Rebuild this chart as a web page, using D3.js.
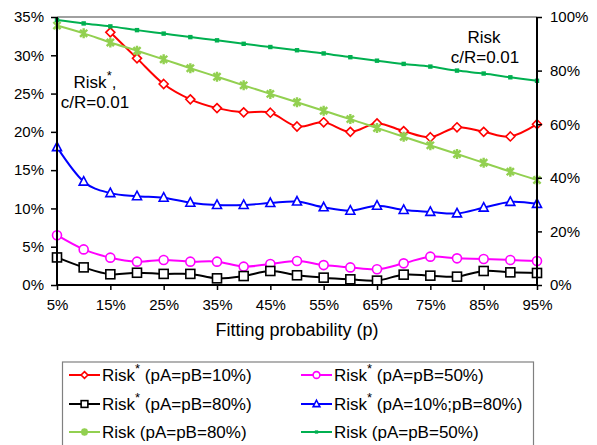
<!DOCTYPE html>
<html><head><meta charset="utf-8">
<script src="https://cdn.jsdelivr.net/npm/d3@7"></script>
<style>body{margin:0;background:#fff}svg{display:block;font-family:"Liberation Sans",Arial,sans-serif}</style>
</head><body><svg id="c" width="597" height="445"></svg>
<script>
const pValues = [5,10,15,20,25,30,35,40,45,50,55,60,65,70,75,80,85,90,95];
const xTickLabels = [5,15,25,35,45,55,65,75,85,95];
const leftTicks = [0,5,10,15,20,25,30,35];
const rightTicks = [0,20,40,60,80,100];
const riskStar10 = [null,null,33.0,29.6,26.25,24.25,23.1,22.55,22.5,20.7,21.25,20.0,21.1,20.1,19.3,20.6,20.0,19.4,21.0];
const riskStar50 = [6.5,4.65,3.57,3.05,3.27,3.05,3.05,2.4,2.75,3.13,2.6,2.3,2.05,2.83,3.7,3.48,3.4,3.27,3.13];
const riskStar80 = [3.6,2.3,1.4,1.6,1.45,1.45,0.87,1.17,1.83,1.27,0.96,0.74,0.57,1.35,1.22,1.09,1.83,1.65,1.57];
const riskStar10_80 = [18.0,13.5,12.0,11.6,11.4,10.75,10.45,10.45,10.7,10.9,10.15,9.7,10.35,9.8,9.55,9.35,10.1,10.85,10.6];
const risk80 = [96.8,93.9,90.5,87.4,84.2,80.9,77.7,74.5,71.3,68.2,65.0,61.9,58.6,55.3,52.1,48.9,45.6,42.3,39.2];
const risk50 = [98.9,97.6,96.5,95.1,93.8,92.5,91.3,90.0,88.8,87.6,86.4,85.0,83.7,82.5,81.5,80.0,78.9,77.5,76.2];
const seriesNames = ["Risk* (pA=pB=10%)","Risk* (pA=pB=50%)","Risk* (pA=pB=80%)","Risk* (pA=10%;pB=80%)","Risk (pA=pB=80%)","Risk (pA=pB=50%)"];

const svg = d3.select("#c");
const x = d3.scaleLinear().domain([5,95]).range([57,537]);
const yL = d3.scaleLinear().domain([0,35]).range([285,17]);
const yR = d3.scaleLinear().domain([0,100]).range([285,17]);

const series = [
  {name:seriesNames[0], data:riskStar10, color:"#ff0000", marker:"diamond", axis:yL},
  {name:seriesNames[1], data:riskStar50, color:"#ff00ff", marker:"circle", axis:yL},
  {name:seriesNames[2], data:riskStar80, color:"#000000", marker:"square", axis:yL},
  {name:seriesNames[3], data:riskStar10_80, color:"#0000ff", marker:"triangle", axis:yL},
  {name:seriesNames[4], data:risk80, color:"#92d050", marker:"star", axis:yR},
  {name:seriesNames[5], data:risk50, color:"#00b050", marker:"dot", axis:yR}
];

svg.append("line").attr("x1",x(5)).attr("x2",x(95)).attr("y1",yL(35)).attr("y2",yL(35)).attr("stroke","#808080").attr("stroke-width",1.5);

function drawMarker(g, type, color, s){
  s = s||1;
  if(type==="diamond"){g.append("path").attr("d",`M0,${-4.5*s}L${4.5*s},0L0,${4.5*s}L${-4.5*s},0Z`).attr("fill","#fff").attr("stroke",color).attr("stroke-width",1.6);}
  else if(type==="circle"){g.append("circle").attr("r",4.5*s).attr("fill","#fff").attr("stroke",color).attr("stroke-width",1.6);}
  else if(type==="square"){g.append("rect").attr("x",-4.5*s).attr("y",-4.5*s).attr("width",9*s).attr("height",9*s).attr("fill","#fff").attr("stroke",color).attr("stroke-width",1.6);}
  else if(type==="triangle"){g.append("path").attr("d",`M0,${-5*s}L${4.5*s},${3.5*s}L${-4.5*s},${3.5*s}Z`).attr("fill","#fff").attr("stroke",color).attr("stroke-width",1.6);}
  else if(type==="star"){const a=5*s,b=3.6*s;g.append("path").attr("d",`M0,${-a}L0,${a}M${-b},${-b}L${b},${b}M${-b},${b}L${b},${-b}`).attr("stroke",color).attr("stroke-width",2.4);}
  else if(type==="dot"){g.append("rect").attr("x",-2.2*s).attr("y",-2.2*s).attr("width",4.4*s).attr("height",4.4*s).attr("fill",color);}
}

const plot = svg.append("g");
series.forEach(sr=>{
  const pts = pValues.map((p,i)=>({p, v:sr.data[i]})).filter(d=>d.v!=null);
  const line = d3.line().x(d=>x(d.p)).y(d=>sr.axis(d.v)).curve(d3.curveCardinal.tension(0));
  plot.append("path").attr("d",line(pts)).attr("fill","none").attr("stroke",sr.color).attr("stroke-width",2);
  pts.forEach(d=>{
    const g = plot.append("g").attr("transform",`translate(${x(d.p)},${sr.axis(d.v)})`);
    drawMarker(g, sr.marker, sr.color);
  });
});

const fs = 15;
const xAxis = d3.axisBottom(x).tickValues(xTickLabels).tickFormat(d=>d+"%").tickSize(5).tickPadding(9);
const gx = svg.append("g").attr("transform",`translate(0,${yL(0)})`).call(xAxis);
const lAxis = d3.axisLeft(yL).tickValues(leftTicks).tickFormat(d=>d+"%").tickSize(6).tickPadding(7);
const gl = svg.append("g").attr("transform",`translate(${x(5)},0)`).call(lAxis);
const rAxis = d3.axisRight(yR).tickValues(rightTicks).tickFormat(d=>d+"%").tickSize(5).tickPadding(8);
const gr = svg.append("g").attr("transform",`translate(${x(95)},0)`).call(rAxis);
[gx,gl,gr].forEach(g=>{
  g.select(".domain").attr("stroke","#000").attr("stroke-width",2);
  g.selectAll(".tick line").attr("stroke","#000").attr("stroke-width",1.5);
  g.selectAll(".tick text").attr("fill","#000").style("font-size",fs+"px").style("font-family","Liberation Sans, Arial, sans-serif");
});
gx.select(".domain").attr("d",`M${x(5)},0H${x(95)}`);
gl.select(".domain").attr("d",`M0,${yL(0)}V${yL(35)}`);
gr.select(".domain").attr("d",`M0,${yR(0)}V${yR(100)}`);

svg.append("text").attr("x",297).attr("y",336).attr("text-anchor","middle").style("font-size","18px").text("Fitting probability (p)");

const a1 = svg.append("text").attr("x",95).attr("y",88).attr("text-anchor","middle").style("font-size","17px");
a1.append("tspan").text("Risk");
a1.append("tspan").attr("dy",-8).style("font-size","13px").text("*");
a1.append("tspan").attr("dy",8).text(",");
svg.append("text").attr("x",95).attr("y",108).attr("text-anchor","middle").style("font-size","17px").text("c/R=0.01");
svg.append("text").attr("x",484).attr("y",43).attr("text-anchor","middle").style("font-size","17px").text("Risk");
svg.append("text").attr("x",485).attr("y",63).attr("text-anchor","middle").style("font-size","17px").text("c/R=0.01");

svg.append("rect").attr("x",62.5).attr("y",362).attr("width",471).attr("height",100).attr("fill","none").attr("stroke","#808080").attr("stroke-width",1.2);
const legPos = [[69,375],[301,375],[69,404],[301,404],[69,432],[301,432]];
series.forEach((sr,i)=>{
  const [lx,ly] = legPos[i];
  const g = svg.append("g").attr("transform",`translate(${lx},${ly})`);
  g.append("line").attr("x1",0).attr("x2",31).attr("y1",0).attr("y2",0).attr("stroke",sr.color).attr("stroke-width",2);
  const mg = g.append("g").attr("transform","translate(15.5,0)");
  drawMarker(mg, sr.marker, sr.color, 0.75);
  const t = g.append("text").attr("x",33).attr("y",6).style("font-size","17px");
  const nm = sr.name;
  if(nm.startsWith("Risk*")){
    t.append("tspan").text("Risk");
    t.append("tspan").attr("dy",-8).style("font-size","13px").text("*");
    t.append("tspan").attr("dy",8).text(" "+nm.slice(6));
  } else t.text(nm);
});
</script></body></html>
